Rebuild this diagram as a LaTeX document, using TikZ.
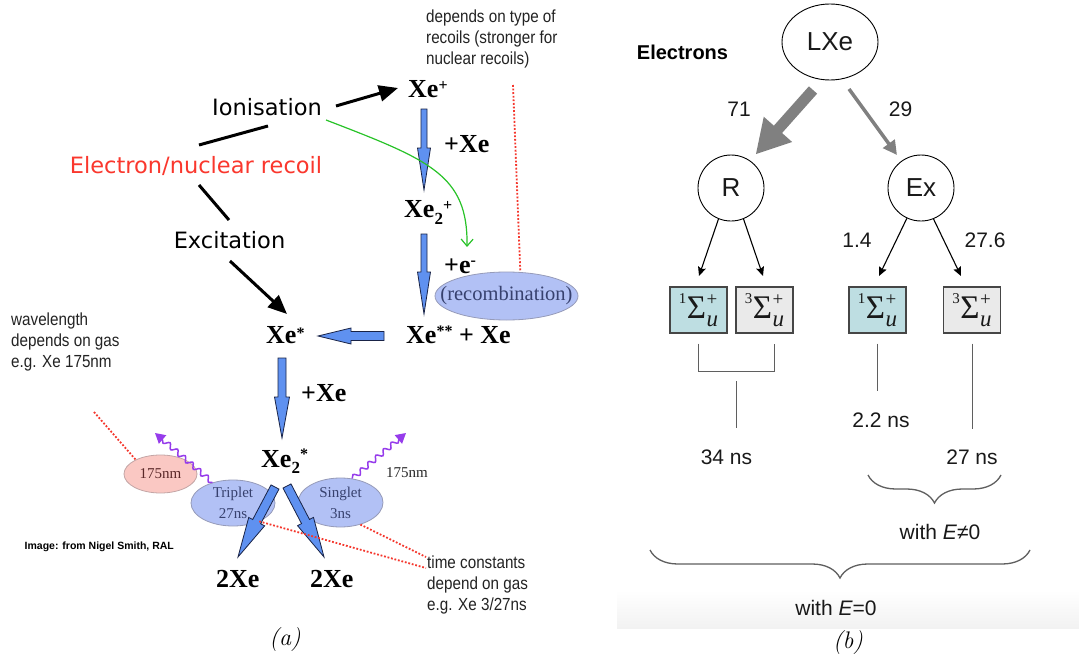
\documentclass[tikz,border=0pt]{standalone}
\usepackage{fontspec}
\usepackage{graphicx}
\usetikzlibrary{arrows.meta,calc,shapes.geometric,decorations.pathmorphing,decorations.pathreplacing}
\newfontfamily\lsans{Liberation Sans}
\newfontfamily\lserif{Liberation Serif}
\newfontfamily\dsans{DejaVu Sans}

\definecolor{arrblue}{RGB}{95,145,240}
\definecolor{arredge}{RGB}{25,35,70}
\definecolor{ellblue}{RGB}{178,193,245}
\definecolor{elledge}{RGB}{150,155,185}
\definecolor{ellpink}{RGB}{250,200,195}
\definecolor{pinkedge}{RGB}{195,165,165}
\definecolor{pinktxt}{RGB}{90,40,40}
\definecolor{dotred}{RGB}{245,55,45}
\definecolor{recred}{RGB}{250,55,45}
\definecolor{grn}{RGB}{40,195,40}
\definecolor{purp}{RGB}{150,60,235}
\definecolor{navytxt}{RGB}{55,65,110}
\definecolor{darktxt}{RGB}{40,40,40}
\definecolor{notegray}{RGB}{35,35,35}
\definecolor{boxteal}{RGB}{190,222,226}
\definecolor{boxgray}{RGB}{234,234,234}
\definecolor{boxedge}{RGB}{70,70,70}
\definecolor{midgray}{RGB}{128,128,128}
\definecolor{linegray}{RGB}{95,95,95}
\definecolor{txtdark}{RGB}{25,25,25}
\definecolor{bandgray}{RGB}{242,242,242}

% raised / lowered small characters for the chemical labels
\newcommand\up[2]{\raisebox{#1}{\fontsize{16}{16}\selectfont #2}}
\newcommand\dn[2]{\raisebox{-#1}{\fontsize{17}{17}\selectfont #2}}
% molecular term symbol  ^{n}Sigma_u^+
\newcommand\sterm[1]{{\lserif\color{txtdark}%
  \raisebox{15pt}{\fontsize{15}{15}\selectfont #1}%
  \kern0.5pt{\fontsize{33}{33}\selectfont Σ}%
  \kern0.5pt\rlap{\raisebox{13pt}{\fontsize{19}{19}\selectfont +}}%
  \raisebox{-8.5pt}{\fontsize{23}{23}\selectfont\itshape u}}}
% narrow three-line annotations
\newcommand\notes[1]{\scalebox{0.87}[1]{\lsans\fontsize{17.5}{21}\selectfont\begin{tabular}[t]{@{}l@{}}#1\end{tabular}}}
% outlined block arrow: [style]{from}{to}{half shaft}{half head}{head length}
\newcommand\blockarrow[6][]{%
  \path ($(#3)!#6!(#2)$) coordinate (ba-h);
  \path[#1] ($(#2)!#4!90:(#3)$) -- ($(ba-h)!#4!90:(#3)$) -- ($(ba-h)!#5!90:(#3)$) -- (#3)
    -- ($(ba-h)!#5!-90:(#3)$) -- ($(ba-h)!#4!-90:(#3)$) -- ($(#2)!#4!-90:(#3)$) -- cycle;}

\begin{document}
\begin{tikzpicture}[x=1pt,y=-1pt,
  every node/.style={inner sep=0pt},
  lbl/.style={font=\dsans\fontsize{22.5}{27}\selectfont, anchor=base},
  xe/.style={font=\lserif\bfseries\fontsize{26}{30}\selectfont, anchor=base west},
  blk/.style={line width=3pt},
  blkarr/.style={blk,-{Triangle[length=19pt,width=16pt]}},
  bluearr/.style={fill=arrblue,draw=arredge,line width=0.8pt},
  ell/.style={ellipse,draw=elledge,fill=ellblue,line width=0.8pt},
  dotline/.style={draw=dotred,line width=1.8pt,dash pattern=on 1.8pt off 1.8pt},
  wavy/.style={draw=purp,line width=1.5pt,decorate,decoration={snake,amplitude=2.5pt,segment length=10pt,post length=9pt},-{Triangle[length=10pt,width=11pt]}},
  small/.style={font=\lserif\fontsize{15}{21}\selectfont},
  num/.style={font=\lsans\fontsize{21}{25}\selectfont,text=txtdark},
  thinarr/.style={line width=1.1pt,-{Stealth[length=9pt,width=8pt,inset=1.5pt]}},
  gline/.style={draw=linegray,line width=1pt},
  sbox/.style={draw=boxedge,line width=1.2pt,minimum width=57pt,minimum height=46pt},
  brc/.style={draw=linegray,line width=1.3pt,decorate,decoration={brace,mirror,amplitude=28pt}}
]
\useasboundingbox (0,0) rectangle (1079,661);
\fill[white] (0,0) rectangle (1079,661);
\shade[top color=white,bottom color=bandgray] (617,590) rectangle (1079,628);

% ================= (a) scintillation scheme =================
\node[lbl] (ion) at (267,115) {Ionisation};
\node[lbl,text=recred] (rec) at (196,173) {Electron/nuclear recoil};
\node[lbl] (exc) at (229.5,248) {Excitation};

\node[xe] (xp) at (408,97) {Xe\up{6.5pt}{+}};
\node[xe] (pxe1) at (444,152) {+Xe};
\node[xe] (x2p) at (404,217) {Xe\dn{7pt}{2}\up{7pt}{+}};
\node[xe] (pe) at (444,273) {+e\up{7.5pt}{-}};
\node[xe] (xs) at (266,343) {Xe\up{5pt}{*}};
\node[xe] (xss) at (406,343) {Xe\up{7pt}{**} + Xe};
\node[xe] (pxe2) at (301,401) {+Xe};
\node[xe] (x2s) at (261,467) {Xe\dn{6pt}{2}\up{8pt}{*}};
\node[xe] (dx1) at (216,587) {2Xe};
\node[xe] (dx2) at (310,587) {2Xe};

\node[ell,minimum width=143pt,minimum height=48pt] (rce) at (506.5,296) {};
\node[font=\lserif\fontsize{20.5}{24}\selectfont,text=navytxt] (rct) at (rce) {(recombination)};
\node[ell,fill=ellpink,draw=pinkedge,minimum width=73pt,minimum height=38pt] (pk) at (160.5,474) {};
\node[small,text=pinktxt] (pkt) at (pk) {175nm};
\node[ell,minimum width=84pt,minimum height=46pt] (tri) at (233,503) {};
\node[small,text=navytxt,align=center] (trit) at (tri) {Triplet\\27ns};
\node[ell,minimum width=85pt,minimum height=49pt] (sng) at (340.5,502.5) {};
\node[small,text=navytxt,align=center] (sngt) at (sng) {Singlet\\3ns};
\node[small,text=darktxt] (nm) at (407,473) {175nm};

\node[anchor=base west,text=notegray] (n1) at (426,23) {\notes{depends on type of\\recoils (stronger for\\nuclear recoils)}};
\node[anchor=base west,text=notegray] (n2) at (11,325) {\notes{wavelength\\depends on gas\\e.g. Xe 175nm}};
\node[anchor=base west,text=notegray] (n3) at (427,568) {\notes{time constants\\depend on gas\\e.g. Xe 3/27ns}};
\node[anchor=west,font=\lsans\bfseries\fontsize{10.5}{12}\selectfont] (cr) at (24.5,547) {Image: from Nigel Smith, RAL};
\node[font=\itshape\fontsize{24}{28}\selectfont] (capa) at (285,640) {(a)};

% black branches
\coordinate (c1) at (199,145); \coordinate (c2) at (268,126);
\coordinate (c3) at (199,185); \coordinate (c4) at (229,220);
\coordinate (c5) at (336,106); \coordinate (c6) at (398,88);
\coordinate (c7) at (230,261); \coordinate (c8) at (287,314);
\draw[blk] (c1) -- (c2);
\draw[blk] (c3) -- (c4);
\draw[blkarr] (c5) -- (c6);
\draw[blkarr] (c7) -- (c8);

% blue reaction arrows
\coordinate (b1s) at (424,109); \coordinate (b1e) at (424,190);
\coordinate (b2s) at (424,234); \coordinate (b2e) at (424,314);
\coordinate (b3s) at (384,336); \coordinate (b3e) at (318,336);
\coordinate (b4s) at (282,358); \coordinate (b4e) at (282,438);
\coordinate (b5s) at (275,487); \coordinate (b5e) at (238,557);
\coordinate (b6s) at (287,486); \coordinate (b6e) at (324,557);
\blockarrow[bluearr]{b1s}{b1e}{3pt}{6.5pt}{42pt}
\blockarrow[bluearr]{b2s}{b2e}{3pt}{6.5pt}{42pt}
\blockarrow[bluearr]{b3s}{b3e}{4.5pt}{8pt}{33pt}
\blockarrow[bluearr]{b4s}{b4e}{4pt}{7.5pt}{41pt}
\blockarrow[bluearr]{b5s}{b5e}{4.5pt}{9pt}{40pt}
\blockarrow[bluearr]{b6s}{b6e}{4.5pt}{9pt}{40pt}

% electron returning for recombination
\coordinate (g1) at (326,120); \coordinate (g2) at (467,247);
\draw[grn,line width=1.2pt,-{Straight Barb[length=7pt,width=12pt]}] (g1) .. controls (430,160) and (468,175) .. (g2);

% emitted photons
\coordinate (pw1) at (155,433); \coordinate (pw2) at (406,433);
\draw[wavy] (tri.135) -- (pw1);
\draw[wavy] (sng.64) -- (pw2);

% annotation leaders
\coordinate (dv) at (513,85);
\coordinate (dl) at (94,412);
\coordinate (tcA) at (426,568); \coordinate (tcB) at (426,557);
\draw[dotline] (dv) -- (rce.60);
\draw[dotline] (dl) -- (pk.150);
\draw[dotline] (tri.325) -- (tcA);
\draw[dotline] (sng.312) -- (tcB);

% ================= (b) branching tree =================
\node[font=\lsans\bfseries\fontsize{20}{24}\selectfont] (el) at (682.5,52) {Electrons};
\node[ellipse,draw,line width=0.9pt,minimum width=96pt,minimum height=76pt,font=\lsans\fontsize{26}{30}\selectfont,text=txtdark] (lxe) at (830,42) {LXe};
\node[circle,draw,line width=0.9pt,minimum size=66pt,font=\lsans\fontsize{26}{30}\selectfont,text=txtdark] (R) at (731,188) {R};
\node[circle,draw,line width=0.9pt,minimum size=66pt,font=\lsans\fontsize{26}{30}\selectfont,text=txtdark] (Ex) at (921,188) {Ex};

\coordinate (k1s) at (813,90); \coordinate (k1e) at (756,154);
\blockarrow[fill=midgray]{k1s}{k1e}{5.5pt}{19pt}{33pt}
\coordinate (k2s) at (849,89); \coordinate (k2e) at (897,155);
\draw[midgray,line width=3.5pt,-{Triangle[length=14pt,width=14pt]}] (k2s) -- (k2e);

\node[num] (l71) at (739,109) {71};
\node[num] (l29) at (900.5,109) {29};
\node[num] (l14) at (857,240) {1.4};
\node[num] (l276) at (985,240) {27.6};

\node[sbox,fill=boxteal] (s1) at (698.5,310) {\sterm{1}};
\node[sbox,fill=boxgray] (s2) at (764.5,310) {\sterm{3}};
\node[sbox,fill=boxteal] (s3) at (877.5,310) {\sterm{1}};
\node[sbox,fill=boxgray] (s4) at (972,310) {\sterm{3}};

\coordinate (t1) at (699,276); \coordinate (t2) at (763,276);
\coordinate (t3) at (879,276); \coordinate (t4) at (961,276);
\draw[thinarr] (R.248) -- (t1);
\draw[thinarr] (R.292) -- (t2);
\draw[thinarr] (Ex.245) -- (t3);
\draw[thinarr] (Ex.292) -- (t4);

\draw[gline] ($(s1.south)+(0,10)$) -- ++(0,28) -| ($(s2.south)+(9.5,10)$);
\coordinate (m1) at (736,381); \coordinate (m2) at (736,428);
\draw[gline] (m1) -- (m2);
\draw[gline] ($(s3.south)+(0,10)$) -- ++(0,47);
\draw[gline] ($(s4.south)+(0,10)$) -- ++(0,85);

\node[num] (t34) at (726.5,457) {34 ns};
\node[num] (t22) at (881,420) {2.2 ns};
\node[num] (t27) at (972,457) {27 ns};

\coordinate (q1) at (868,475); \coordinate (q2) at (1001,475);
\coordinate (q3) at (650,550); \coordinate (q4) at (1030,550);
\draw[brc] (q1) -- (q2);
\draw[brc] (q3) -- (q4);

\node[num] (wne) at (940,532) {with \textit{E}≠0};
\node[num] (weq) at (836,608) {with \textit{E}=0};
\node[font=\itshape\fontsize{24}{28}\selectfont] (capb) at (848,643) {(b)};
\end{tikzpicture}
\end{document}
